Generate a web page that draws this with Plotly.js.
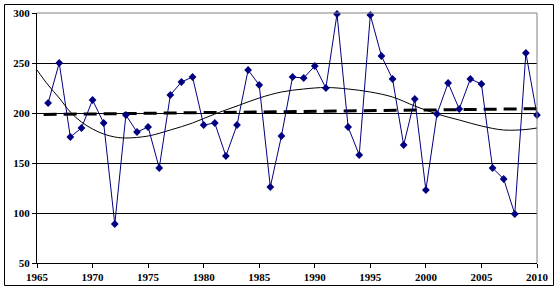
<!DOCTYPE html>
<html>
<head>
<meta charset="utf-8">
<script src="https://cdn.plot.ly/plotly-3.0.1.min.js"></script>
<style>
html,body{margin:0;padding:0;background:#fff;}
#chart{width:560px;height:290px;}
</style>
</head>
<body>
<div id="chart"></div>
<script>
// Observed annual values
const years = [1966,1967,1968,1969,1970,1971,1972,1973,1974,1975,1976,1977,1978,1979,1980,1981,1982,1983,1984,1985,1986,1987,1988,1989,1990,1991,1992,1993,1994,1995,1996,1997,1998,1999,2000,2001,2002,2003,2004,2005,2006,2007,2008,2009,2010];
const values = [210,250,176,185,213,190,89,198,181,186,145,218,231,236,188,190,157,188,243,228,126,177,236,235,247,225,299,186,158,298,257,234,168,214,123,199,230,204,234,229,145,134,99,260,198];

// Linear trend
const trendYears = [1965.6, 2010];
const trendValues = [198.5, 204.3];

// Polynomial trend curve
const polyYears = [1965,1966,1967,1968,1969,1970,1971,1972,1973,1975,1977,1979,1981,1983,1985,1987,1989,1991,1993,1995,1997,1999,2001,2003,2005,2007,2009,2010];
const polyValues = [243,228,215,201,191,184,179,176,175,177,183,190,199,207,215,221,224,225.5,224,221,216,207,199,193,187,183,183.5,185];

// Axis ticks
const xTicks = [1965,1970,1975,1980,1985,1990,1995,2000,2005,2010];
const yTicks = [50,100,150,200,250,300];

const tickFont = {family: '"Liberation Serif", "Times New Roman", serif', size: 11, color: '#000'};

const traces = [
  {
    x: trendYears, y: trendValues, type: 'scatter', mode: 'lines',
    line: {color: '#000', width: 3, dash: '13px,7px'}, hoverinfo: 'skip'
  },
  {
    x: polyYears, y: polyValues, type: 'scatter', mode: 'lines',
    line: {color: '#000', width: 1, shape: 'spline', smoothing: 1}, hoverinfo: 'skip'
  },
  {
    x: years, y: values, type: 'scatter', mode: 'lines+markers',
    line: {color: '#000080', width: 1},
    marker: {symbol: 'diamond', size: 6, color: '#000080'},
    cliponaxis: false
  }
];

const plotL = 37, plotR = 537, plotT = 13, plotB = 263;
const pw = plotR - plotL, ph = plotB - plotT;
function px(x){ return (x - plotL) / pw; }
function py(y){ return (plotB - y) / ph; }

const layout = {
  width: 560, height: 290,
  margin: {l: plotL, r: 560 - plotR, t: plotT, b: 290 - plotB, pad: 0},
  paper_bgcolor: '#fff', plot_bgcolor: '#fff',
  showlegend: false,
  xaxis: {
    range: [1965, 2010], tickvals: xTicks, ticktext: xTicks.map(String),
    showgrid: false, zeroline: false,
    showline: true, linecolor: '#000', linewidth: 1,
    ticks: 'outside', ticklen: 4, tickcolor: '#000', tickwidth: 1,
    tickfont: Object.assign({}, tickFont, {weight: 'bold'}),
    fixedrange: true
  },
  yaxis: {
    range: [50, 300], tickvals: yTicks, ticktext: yTicks.map(String),
    showgrid: true, gridcolor: '#000', gridwidth: 1,
    zeroline: false,
    showline: true, linecolor: '#000', linewidth: 1,
    ticks: 'outside', ticklen: 4, tickcolor: '#000', tickwidth: 1,
    tickfont: Object.assign({}, tickFont, {weight: 'bold'}),
    fixedrange: true
  },
  shapes: [
    {type: 'line', xref: 'paper', yref: 'paper', x0: 0, x1: 1, y0: 1, y1: 1, line: {color: '#808080', width: 1}, layer: 'above'},
    {type: 'line', xref: 'paper', yref: 'paper', x0: 1, x1: 1, y0: 0, y1: 1, line: {color: '#808080', width: 1}, layer: 'above'},
    {type: 'rect', xref: 'paper', yref: 'paper', x0: px(4.5), x1: px(553.5), y0: py(285.5), y1: py(4.5), line: {color: '#000', width: 1}, layer: 'above'}
  ]
};

Plotly.newPlot('chart', traces, layout, {staticPlot: true, displayModeBar: false});
</script>
</body>
</html>
